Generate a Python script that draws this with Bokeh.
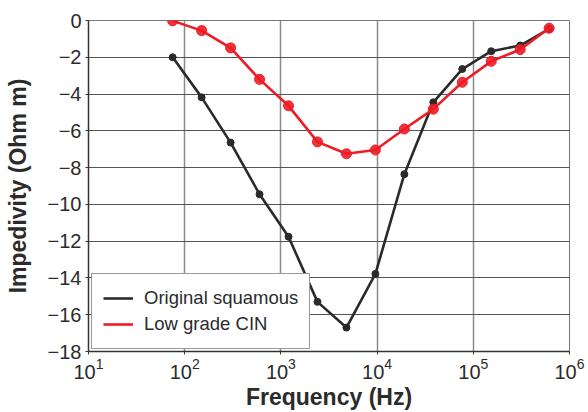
from bokeh.plotting import figure
from bokeh.models import Range1d, FixedTicker, LogTickFormatter, Legend, LegendItem
from bokeh.embed import file_html
from bokeh.resources import INLINE

freq_hz = [75, 150, 300, 600, 1200, 2400, 4800, 9600, 19200, 38400, 76800, 153600, 307200, 614400]
original_squamous = [-2.0, -4.18, -6.64, -9.45, -11.76, -15.3, -16.7, -13.78, -8.36, -4.45, -2.64, -1.67, -1.36, -0.45]
low_grade_cin = [-0.02, -0.55, -1.49, -3.2, -4.64, -6.6, -7.25, -7.04, -5.9, -4.82, -3.36, -2.22, -1.58, -0.42]
x_ticks = [10, 100, 1000, 10000, 100000, 1000000]
y_ticks = [0, -2, -4, -6, -8, -10, -12, -14, -16, -18]
series_names = ["Original squamous", "Low grade CIN"]

FONT = "Liberation Sans"
TXT = "#2b2b2b"

p = figure(width=588, height=412, x_axis_type="log", output_backend="svg",
           toolbar_location=None,
           x_range=Range1d(10, 1e6), y_range=Range1d(-18, 0),
           min_border_left=88, min_border_right=19, min_border_top=20, min_border_bottom=61)

p.background_fill_color = "white"
p.border_fill_color = "white"
p.outline_line_color = "#777777"
p.outline_line_width = 1

p.xaxis.ticker = FixedTicker(ticks=x_ticks, minor_ticks=[])
p.xaxis.formatter = LogTickFormatter()
p.yaxis.ticker = FixedTicker(ticks=y_ticks, minor_ticks=[])

for ax in (p.xaxis, p.yaxis):
    ax.major_label_text_font = FONT
    ax.major_label_text_font_size = "20px"
    ax.major_label_text_color = TXT
    ax.axis_label_text_font = FONT
    ax.axis_label_text_font_size = "23px"
    ax.axis_label_text_font_style = "bold"
    ax.axis_label_text_color = TXT
    ax.axis_line_color = "#333333"
    ax.axis_line_width = 1.5
    ax.major_tick_line_color = "#333333"
    ax.major_tick_in = 0
    ax.major_tick_out = 3
    ax.minor_tick_line_color = None

p.xaxis.axis_label = "Frequency (Hz)"
p.yaxis.axis_label = "Impedivity (Ohm m)"
p.xaxis.major_label_standoff = 3
p.xaxis.axis_label_standoff = 2
p.yaxis.major_label_standoff = 4
p.yaxis.axis_label_standoff = 14

p.xgrid.ticker = FixedTicker(ticks=x_ticks)
p.ygrid.ticker = FixedTicker(ticks=y_ticks)
p.xgrid.grid_line_color = "#8a8a8a"
p.xgrid.grid_line_width = 1.5
p.ygrid.grid_line_color = "#555555"
p.ygrid.grid_line_width = 1.2

BLACK = "#2a2a2a"
RED = "#ee1c25"

l1 = p.line(freq_hz, original_squamous, line_color=BLACK, line_width=2.6)
s1 = p.scatter(freq_hz, original_squamous, marker="circle", size=7, fill_color=BLACK, line_color=BLACK)
l2 = p.line(freq_hz, low_grade_cin, line_color=RED, line_width=2.6)
s2 = p.scatter(freq_hz, low_grade_cin, marker="circle", size=10, fill_color=RED, line_color=RED, fill_alpha=0.9)

legend = Legend(items=[LegendItem(label=series_names[0], renderers=[l1]),
                       LegendItem(label=series_names[1], renderers=[l2])],
                location=(3, 2), orientation="vertical")
legend.label_text_font = FONT
legend.label_text_font_size = "18.5px"
legend.label_text_color = TXT
legend.glyph_width = 30
legend.glyph_height = 26
legend.label_height = 26
legend.spacing = 0
legend.padding = 11
legend.margin = 0
legend.label_standoff = 11
legend.border_line_color = "#333333"
legend.border_line_width = 1.5
legend.background_fill_color = "white"
legend.background_fill_alpha = 1.0
p.add_layout(legend, "center")

open("out.html", "w").write(file_html(p, INLINE))
